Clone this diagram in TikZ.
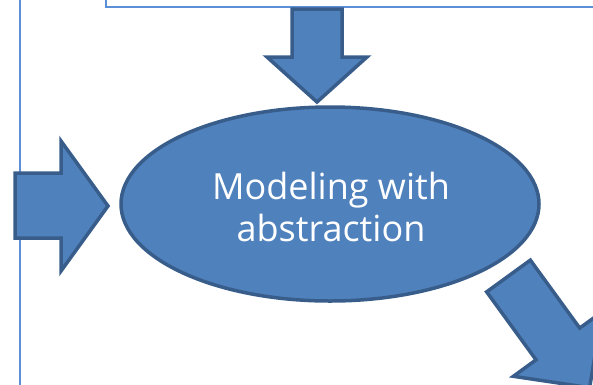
\documentclass[tikz,border=0pt]{standalone}
\usepackage{fontspec}
\setmainfont{Open Sans}
\usetikzlibrary{shapes.geometric}
\definecolor{accfill}{HTML}{4F81BD}
\definecolor{accline}{HTML}{385D8A}
\definecolor{frameblue}{HTML}{5B8FD6}
\tikzset{
  blockarrow/.style={fill=accfill,draw=accline,line width=3.5pt,line join=miter},
  framerule/.style={draw=frameblue,line width=2pt},
}
\begin{document}
\begin{tikzpicture}[x=1pt,y=-1pt]
\useasboundingbox (0,0) rectangle (593,384);
\clip (0,0) rectangle (593,384);
% frame lines
\draw[framerule] (20,-5) -- (20,390);
\draw[framerule] (106,-5) -- (106,7) -- (600,7);
% down arrow
\draw[blockarrow] (292,9) -- (342,9) -- (342,57) -- (367,57) -- (317,102) -- (267,57) -- (292,57) -- cycle;
% left arrow
\draw[blockarrow] (15,173) -- (61,173) -- (61,141) -- (108,206) -- (61,271) -- (61,238) -- (15,238) -- cycle;
% diagonal arrow
\begin{scope}[shift={(508.5,276)},rotate=-54]
\draw[blockarrow] (0,-27) -- (84,-27) -- (84,-55) -- (138,0) -- (84,55) -- (84,27) -- (0,27) -- cycle;
\end{scope}
% ellipse
\node[ellipse,fill=accfill,draw=accline,line width=3.5pt,minimum width=418pt,minimum height=194pt,inner sep=0pt] (model) at (330,204) {};
\node[text=white,font=\fontsize{36}{42}\selectfont,align=center] (label) at (331,207) {Modeling with\\abstraction};
\end{tikzpicture}
\end{document}
